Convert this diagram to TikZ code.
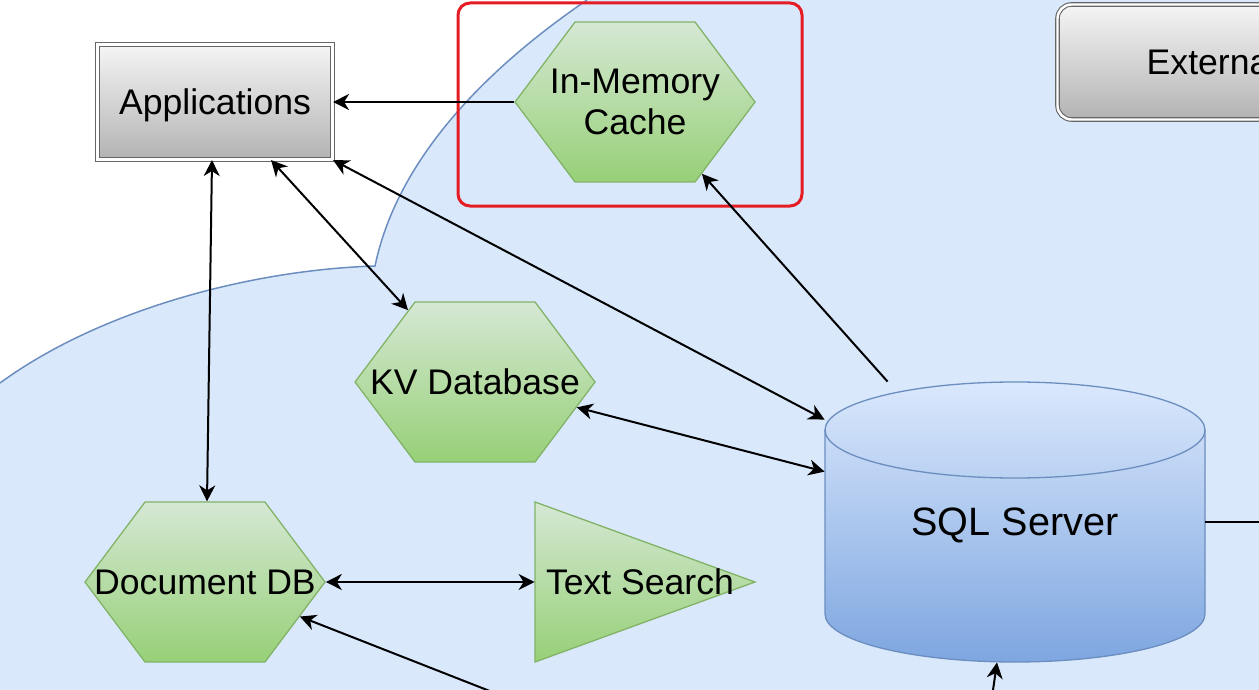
\documentclass[tikz,border=0pt]{standalone}
\usepackage{fontspec}
\setmainfont{Liberation Sans}
\usetikzlibrary{shapes.symbols,arrows.meta,calc}
\definecolor{bgfill}{HTML}{DAE8FC}
\definecolor{bgline}{HTML}{6C8EBF}
\definecolor{gtop}{HTML}{D5E8D4}
\definecolor{gbot}{HTML}{97D077}
\definecolor{gline}{HTML}{82B366}
\definecolor{ytop}{HTML}{F5F5F5}
\definecolor{ybot}{HTML}{B3B3B3}
\definecolor{yline}{HTML}{666666}
\definecolor{cbot}{HTML}{7EA6E0}
\definecolor{hilite}{HTML}{E51C23}
\tikzset{
  every node/.style={font=\fontsize{17.8}{20.5}\selectfont},
  hexa/.style={signal, signal to=west and east, signal pointer angle=106.26,
    minimum width=120pt, minimum height=80pt, inner sep=0pt,
    draw=gline, line width=0.65pt, top color=gtop, bottom color=gbot},
  grybox/.style={draw=yline, line width=0.55pt, double=white, double distance=1.2pt,
    top color=ytop, bottom color=ybot, minimum width=117.5pt, minimum height=57.5pt,
    text depth=0pt},
  link/.style={->, line width=1pt},
  both/.style={<->, line width=1pt}
}
\begin{document}
\begin{tikzpicture}[x=0.5pt,y=-0.5pt,>={Stealth[length=8pt,width=8pt,inset=2.5pt]}]
\useasboundingbox (0,0) rectangle (1259,690);
\clip (0,0) rectangle (1259,690);
% zone behind the stores
\fill[bgfill] (587,0) .. controls (470,80) and (395,170) .. (375,266)
  .. controls (250,270) and (100,310) .. (0,383) -- (0,690) -- (1259,690) -- (1259,0) -- cycle;
\draw[bgline, line width=0.75pt] (587,0) .. controls (470,80) and (395,170) .. (375,266)
  .. controls (250,270) and (100,310) .. (0,383);
% highlight round the cache
\draw[hilite, line width=1.5pt, rounded corners=6pt] (458,3) rectangle (802,206);
% sql cylinder
\shade[top color=bgfill, bottom color=cbot, draw=bgline, line width=0.65pt]
  (825,430) -- (825,614) arc[start angle=180, end angle=360, x radius=95pt, y radius=24pt]
  -- (1205,430) arc[start angle=0, end angle=180, x radius=95pt, y radius=24pt] -- cycle;
\draw[bgline, line width=0.65pt] (825,430) arc[start angle=180, end angle=360, x radius=95pt, y radius=24pt];
% text search triangle
\shade[top color=gtop, bottom color=gbot, draw=gline, line width=0.65pt] (535,502) -- (755,582) -- (535,662) -- cycle;

\node[grybox] (app) at (215,102) {Applications};
\node[grybox, rounded corners=7pt, minimum width=154.5pt] (ext) at (1212,62) {External};
\node[hexa, label={[align=center]center:In-Memory\\Cache}] (cache) at (635,102) {};
\node[hexa, label=center:KV Database] (kv) at (475,382) {};
\node[hexa, label=center:Document DB] (doc) at (205,582) {};
\node[minimum width=105pt, minimum height=80pt, inner sep=0pt] (ts) at (640,582) {Text Search};
\node[minimum width=190pt, minimum height=140pt, inner sep=0pt, text depth=0pt,
  font=\fontsize{19.8}{23}\selectfont] (sql) at (1015,522) {SQL Server};
\coordinate (out1) at (1270,522);
\coordinate (in1) at (992,697);
\coordinate (in2) at (505,697);

\draw[link] (cache) -- (app);
\draw[both] ([xshift=-1.5pt]app.south) -- ([xshift=1pt]doc.north);
\draw[both] (app.-46) -- (kv.133);
\draw[both] (app.south east) -- ([yshift=-19pt]sql.north west);
\draw[both] (kv.-14) -- ([yshift=-45pt]sql.north west);
\draw[both] (doc.east) -- (ts.west);
\draw[link] ([xshift=31.5pt]sql.north west) -- (cache.-47);
\draw[line width=1pt] (sql.east) -- (out1);
\draw[link] (in1) -- ([xshift=-9pt]sql.south);
\draw[link] (in2) -- (doc.-20);
\end{tikzpicture}
\end{document}
